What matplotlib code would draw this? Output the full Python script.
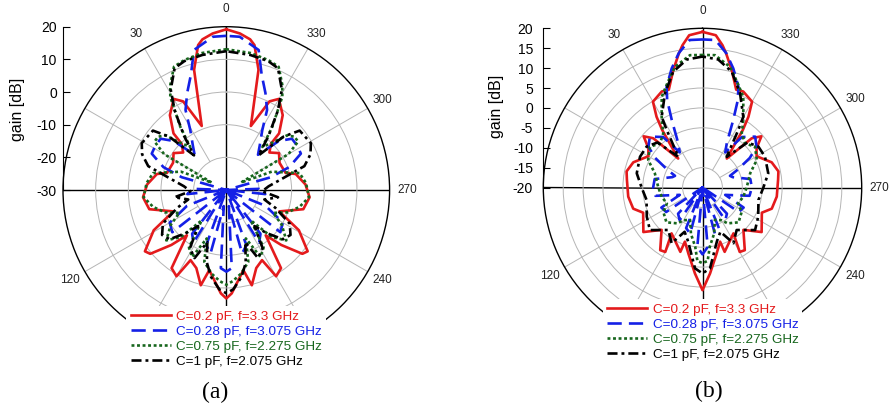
import numpy as np
import matplotlib.pyplot as plt

plt.rcParams['font.family'] = ['Liberation Sans', 'DejaVu Sans']
plt.rcParams['axes.unicode_minus'] = False

# patterns: angle (deg, 0..180) and gain (dB),
# the other half (180..360) is the mirror image

# (a)
red_a_ang = [0, 5, 9, 11, 15, 21, 26, 30, 37, 43, 44, 49, 55, 63, 74, 77, 86, 95, 104, 112,
             119, 127, 130, 135, 139, 145, 150, 153, 159, 165, 168, 177, 180]
red_a_db = [19.2, 18.1, 16.7, 15.2, 8.1, -9.0, 0.2, 2.2, -1.3, -6.3, -10.3, -12.5, -10.3, -11.7, -11.1, -8.2, -5.7, -4.4, -5.7, -12.5,
            -4.6, 1.2, 0.4, -6.2, -11.6, -0.8, 0.5, -5.9, -4.4, 0.2, -4.9, 1.7, 3.2]

blue_a_ang = [0, 5, 13, 17, 22, 27, 31, 37, 42, 47, 52, 58, 64, 70, 74, 80, 88, 96, 104, 112,
              120, 128, 135, 142, 148, 154, 160, 166, 171, 176, 180]
blue_a_db = [17.2, 17.1, 14.0, 7.0, 2.0, -2.5, -8.6, -13.0, -15.5, -8.0, -4.5, -4.4, -4.6, -9.5, -15.8, -30.0, -20.0, -18.0, -30.0, -17.0,
             -10.0, -9.0, -30.0, -13.0, -11.0, -30.0, -12.0, -10.0, -25.0, -6.0, -5.0]

green_a_ang = [0, 10, 18, 23, 28, 31, 36, 40, 44, 48, 52, 56, 60, 63, 68, 77, 85, 95, 103, 110,
               116, 122, 130, 136, 141, 147, 153, 158, 163, 170, 176, 180]
green_a_db = [13.1, 12.6, 11.8, 11.0, 6.5, 3.3, -6.0, -12.8, -10.0, -5.0, -3.5, -3.5, -8.0, -25.0, -15.0, -7.0, -5.5, -4.6, -7.0, -10.0,
              -14.0, -10.0, -6.0, -10.0, -18.0, -9.0, -7.0, -14.0, -7.0, -4.0, -2.0, -1.0]

black_a_ang = [0, 10, 18, 23, 29, 33, 38, 43, 47, 51, 61, 67, 73, 78, 85, 92, 98, 104, 110, 118,
               125, 131, 137, 142, 148, 155, 160, 165, 170, 176, 180]
black_a_db = [12.5, 12.0, 11.5, 10.5, 5.1, -1.0, -9.0, -15.5, -6.0, -1.1, -0.4, -2.0, -5.0, -12.0, -17.0, -19.0, -14.0, -18.0, -14.0, -8.0,
              -6.0, -7.0, -12.0, -16.0, -9.0, -7.0, -13.0, -7.0, -3.0, 0.5, 1.6]

# (b)
red_b_ang = [0, 5, 8, 10, 14, 19, 23, 30, 33, 35, 40, 45, 49, 54, 60, 70, 78, 84, 97, 107,
             113, 127, 136, 146, 150, 146, 161, 162, 168, 175, 180]
red_b_db = [19.1, 18.4, 16.1, 14.2, 10.4, 6.0, 6.2, 4.9, 1.2, -2.3, -10.5, -2.5, -0.4, -3.2, -4.3, -1.5, -0.5, -0.9, -1.2, -1.8,
            -3.8, -1.4, -5.2, -1.0, -1.3, -6.1, -2.9, -5.7, -3.0, 1.7, 5.8]

blue_b_ang = [0, 5, 10, 14.5, 19.6, 22, 24.5, 28.7, 33, 38, 46, 53, 58, 63, 67, 71, 80, 90, 100, 108,
              116, 124, 130, 137, 145, 152, 158, 165, 170, 175, 180]
blue_b_db = [17.2, 17.2, 14.3, 10.9, 6.9, 3.7, -1.4, -7.3, -9.5, -3.9, -1.6, -3.0, -6.0, -10.0, -12.5, -12.0, -7.8, -7.6, -8.0, -14.0,
             -8.5, -9.0, -20.0, -11.0, -10.0, -20.0, -9.0, -8.0, -20.0, -5.0, -3.2]

green_b_ang = [0, 5.4, 12.8, 18, 24.2, 31.2, 35.9, 43.9, 52.2, 63.1, 73.4, 90, 103, 114, 122, 134,
               145, 150, 159, 166, 173, 176, 180]
green_b_db = [13.3, 13.4, 11.1, 8.0, 5.0, -0.2, -3.2, -4.6, -3.3, -4.7, -7.5, -8.9, -9.5, -10.2, -8.4, -7.4,
              -9.0, -10.5, -11.3, -8.0, -5.0, -1.5, -1.0]

black_b_ang = [0, 7, 14.2, 21.7, 30, 31.9, 38.2, 45, 53.8, 63.8, 77.8, 90, 102.6, 117.6, 129, 141.2,
               151, 158, 165, 174.7, 180]
black_b_db = [12.9, 12.4, 10.0, 5.5, 0.5, -3.0, -10.2, -4.0, -2.6, -2.5, -3.1, -4.7, -5.6, -4.2, -3.0, -6.3,
              -4.0, -8.0, -6.0, 0.4, 1.6]

labels = ["C=0.2 pF, f=3.3 GHz", "C=0.28 pF, f=3.075 GHz",
          "C=0.75 pF, f=2.275 GHz", "C=1 pF, f=2.075 GHz"]
colors = ['#e41a1c', '#1420e6', '#17661d', 'black']
dashes = [None, (5.4, 2.7), (1.1, 1.0), (3.8, 1.5, 1.1, 1.5)]

angle_labels = {0: '0', 30: '30', 120: '120', 240: '240', 270: '270', 300: '300', 330: '330'}


def full_pattern(ang, db):
    a = list(ang) + [360 - x for x in reversed(ang[:-1])]
    d = list(db) + list(reversed(db[:-1]))
    return np.radians(a), np.array(d)


def panel(fig, rect, rmin, rmax, step, data, label_xy, tick_pad, leg_y, caption, cap_xy):
    ax = fig.add_axes(rect, projection='polar')
    ax.set_theta_zero_location('N')
    ax.set_theta_direction(1)
    ax.set_ylim(rmin, rmax)

    rings = np.arange(rmin + step, rmax, step)
    ax.set_rgrids(rings, labels=[''] * len(rings))
    ax.yaxis.grid(True, color='#b5b5b5', lw=0.7)
    ticks = list(range(0, 360, 30))
    ax.set_thetagrids(ticks, labels=[angle_labels.get(t, '') for t in ticks])
    ax.xaxis.grid(False)
    ax.tick_params(axis='x', labelsize=8.5, pad=2, colors='#222222')
    ax.spines['polar'].set_color('black')
    ax.spines['polar'].set_linewidth(1.0)

    # spokes start at the first ring
    for t in ticks:
        if t % 90:
            ax.plot([np.radians(t)] * 2, [rings[0], rmax], color='#b5b5b5', lw=0.7, zorder=1)
    for t in (0, 90, 180, 270):
        ax.plot([np.radians(t)] * 2, [rmin, rmax], color='black', lw=1.0, zorder=1.5)

    for (ang, db), lab, c, d in zip(data, labels, colors, dashes):
        th, r = full_pattern(ang, db)
        line, = ax.plot(th, r, color=c, lw=1.9, label=lab, zorder=3)
        if d is not None:
            line.set_dashes(d)

    handles = ax.get_lines()[-4:]
    leg = ax.legend(handles=handles, loc='upper center', bbox_to_anchor=(0.5, leg_y),
                    fontsize=9.7, handlelength=3.0, handletextpad=0.4, labelspacing=0.2,
                    borderpad=0.3, frameon=True, facecolor='white', edgecolor='none',
                    framealpha=1, labelcolor='linecolor')
    leg.set_zorder(10)

    # vertical gain axis on the left
    ax2 = fig.add_axes(rect)
    ax2.patch.set_visible(False)
    ax2.set_xlim(0, 1)
    ax2.set_ylim(rmin - (rmax - rmin), rmax)
    for s in ('top', 'right', 'bottom'):
        ax2.spines[s].set_visible(False)
    ax2.spines['left'].set_bounds(rmin, rmax)
    ax2.set_xticks([])
    ax2.set_yticks(np.arange(rmin, rmax + 0.1, step))
    ax2.tick_params(axis='y', direction='in', length=5, labelsize=10, pad=tick_pad)
    ax2.set_ylabel('gain [dB]', fontsize=11.5)
    ax2.yaxis.set_label_coords(*label_xy)

    fig.text(cap_xy[0], cap_xy[1], caption, family='Liberation Serif', fontsize=17,
             ha='center', va='center')


fig = plt.figure(figsize=(8.96, 4.03), dpi=100)

data_a = [(red_a_ang, red_a_db), (blue_a_ang, blue_a_db),
          (green_a_ang, green_a_db), (black_a_ang, black_a_db)]
data_b = [(red_b_ang, red_b_db), (blue_b_ang, blue_b_db),
          (green_b_ang, green_b_db), (black_b_ang, black_b_db)]

panel(fig, [63 / 896, 49.7 / 403, 326.6 / 896, 326.6 / 403], -30, 20, 10, data_a,
      (-0.115, 0.748), 4.5, 0.165, '(a)', (215 / 896, 1 - 392 / 403))
panel(fig, [543.3 / 896, 56.3 / 403, 318.4 / 896, 318.4 / 403], -20, 20, 5, data_b,
      (-0.125, 0.754), 7.5, 0.17, '(b)', (709 / 896, 1 - 391 / 403))

fig.savefig('out.png', dpi=100)
